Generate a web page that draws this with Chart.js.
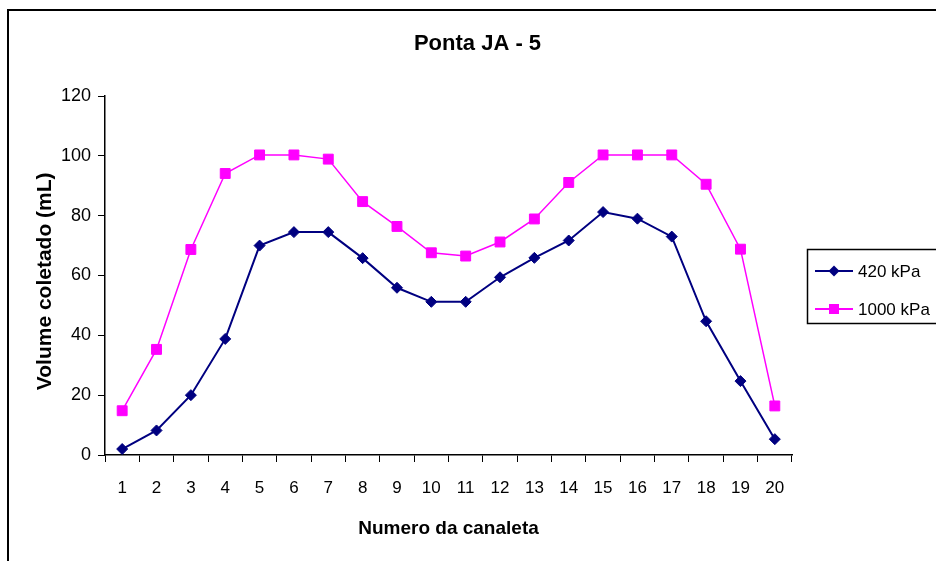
<!DOCTYPE html>
<html>
<head>
<meta charset="utf-8">
<title>Ponta JA - 5</title>
<script src="https://cdn.jsdelivr.net/npm/chart.js"></script>
<style>
  html, body { margin: 0; padding: 0; background: #fff; overflow: hidden; }
  body { width: 936px; height: 561px; position: relative; }
  /* moldura do gráfico (direita e baixo ficam fora da imagem) */
  .frame { position: absolute; left: 7px; top: 9px; width: 1000px; height: 700px; border: 2px solid #000; }
  #chart { position: absolute; left: 0; top: 0; }
</style>
</head>
<body>
<div class="frame"></div>
<canvas id="chart" width="936" height="561"></canvas>
<script>
// Dados
const canaletas = ["1", "2", "3", "4", "5", "6", "7", "8", "9", "10",
  "11", "12", "13", "14", "15", "16", "17", "18", "19", "20"];
const volume420 = [2, 8.2, 20, 38.8, 70, 74.5, 74.5, 65.8, 55.9, 51.2,
  51.2, 59.4, 65.9, 71.7, 81.2, 79, 73, 44.7, 24.7, 5.3];
const volume1000 = [14.8, 35.3, 68.7, 94.1, 100.3, 100.3, 98.9, 84.7, 76.4, 67.6,
  66.5, 71.2, 78.9, 91.1, 100.3, 100.3, 100.3, 90.5, 68.8, 16.4];
const yMin = 0;
const yMax = 120;
const yStep = 20;

const FONT = "'Liberation Sans', Arial, sans-serif";
Chart.defaults.font.family = FONT;
Chart.defaults.color = "#000";

// Centraliza o título na largura total (a legenda fica à direita)
const titleCenter = {
  id: "titleCenter",
  afterLayout(chart) {
    if (chart.titleBlock) {
      chart.titleBlock.left = 0;
      chart.titleBlock.right = 955;
    }
  },
};

// Legenda desenhada à mão, com a caixa à direita
const legendBox = {
  id: "legendBox",
  afterDraw(chart) {
    const ctx = chart.ctx;
    ctx.save();
    ctx.strokeStyle = "#000";
    ctx.lineWidth = 1.5;
    ctx.strokeRect(807.5, 249.5, 150, 74);
    chart.data.datasets.forEach((ds, i) => {
      const y = 271 + i * 38;
      ctx.strokeStyle = ds.borderColor;
      ctx.lineWidth = 2;
      ctx.beginPath();
      ctx.moveTo(815, y);
      ctx.lineTo(853, y);
      ctx.stroke();
      ctx.fillStyle = ds.backgroundColor;
      if (ds.pointStyle === "rectRot") {
        const r = ds.pointRadius;
        ctx.beginPath();
        ctx.moveTo(834, y - r);
        ctx.lineTo(834 + r, y);
        ctx.lineTo(834, y + r);
        ctx.lineTo(834 - r, y);
        ctx.closePath();
        ctx.fill();
      } else {
        ctx.fillRect(829, y - 5, 10, 10);
      }
      ctx.fillStyle = "#000";
      ctx.font = "17px " + FONT;
      ctx.textBaseline = "middle";
      ctx.textAlign = "left";
      ctx.fillText(ds.label, 858, y + 1);
    });
    ctx.restore();
  },
};

const ctx = document.getElementById("chart").getContext("2d");
new Chart(ctx, {
  type: "line",
  data: {
    labels: canaletas,
    datasets: [
      {
        label: "420 kPa",
        data: volume420,
        borderColor: "#000080",
        backgroundColor: "#000080",
        borderWidth: 2,
        pointStyle: "rectRot",
        pointRadius: 5.5,
        pointBorderWidth: 1,
        tension: 0,
      },
      {
        label: "1000 kPa",
        data: volume1000,
        borderColor: "#FF00FF",
        backgroundColor: "#FF00FF",
        borderWidth: 1.5,
        pointStyle: "rect",
        pointRadius: 7,
        pointBorderWidth: 1,
        tension: 0,
      },
    ],
  },
  options: {
    responsive: false,
    animation: false,
    layout: { padding: { top: 0, right: 144, bottom: 0, left: 0 } },
    plugins: {
      legend: { display: false },
      tooltip: { enabled: false },
      title: {
        display: true,
        text: "Ponta JA - 5",
        color: "#000",
        font: { size: 22, weight: "bold" },
        padding: { top: 31, bottom: 38.6 },
      },
    },
    scales: {
      x: {
        offset: true,
        grid: {
          offset: true,
          drawOnChartArea: false,
          drawTicks: true,
          tickLength: 7,
          color: "#000",
          lineWidth: 1,
        },
        border: { color: "#000", width: 1.5 },
        ticks: { color: "#000", font: { size: 17 }, padding: 16, maxRotation: 0, autoSkip: false },
        title: {
          display: true,
          text: "Numero da canaleta",
          color: "#000",
          font: { size: 19, weight: "bold" },
          padding: { top: 0, bottom: 20.6 },
        },
        afterFit: (scale) => { scale.height = 106; },
      },
      y: {
        min: yMin,
        max: yMax,
        grid: {
          drawOnChartArea: false,
          drawTicks: true,
          tickLength: 7,
          color: "#000",
          lineWidth: 1,
        },
        border: { color: "#000", width: 1.5 },
        ticks: { stepSize: yStep, color: "#000", font: { size: 18 }, padding: 7 },
        title: {
          display: true,
          text: "Volume coletado (mL)  ",
          color: "#000",
          font: { size: 21, weight: "bold" },
          padding: { top: 33, bottom: 0 },
        },
        afterFit: (scale) => { scale.width = 105; },
      },
    },
  },
  plugins: [titleCenter, legendBox],
});
</script>
</body>
</html>
